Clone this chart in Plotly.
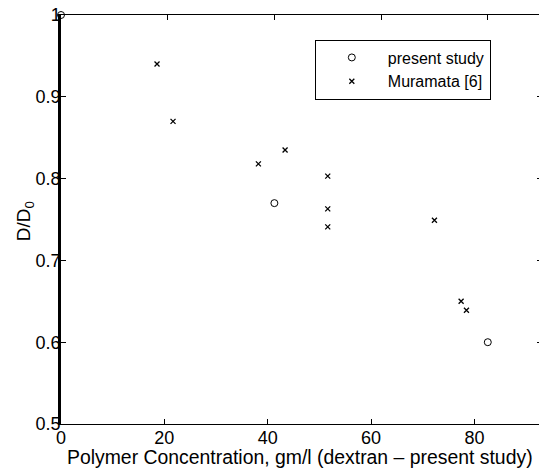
import plotly.graph_objects as go

# Data
present_x = [0, 40, 80]
present_y = [1.0, 0.77, 0.60]
mur_x = [18, 21, 37, 42, 50, 50, 50, 70, 75, 76]
mur_y = [0.940, 0.870, 0.818, 0.835, 0.803, 0.763, 0.741, 0.749, 0.650, 0.639]

x_ticks = [0, 20, 40, 60, 80]
x_top_ticks = [20, 40, 60, 80]
y_ticks = [0.5, 0.6, 0.7, 0.8, 0.9, 1.0]
y_ticklabels = ["0.5", "0.6", "0.7", "0.8", "0.9", "1"]

FONT = "Liberation Sans, Arial, Helvetica, sans-serif"

fig = go.Figure()
fig.add_trace(go.Scatter(
    x=present_x, y=present_y, mode="markers", name="present study",
    xaxis="x", yaxis="y", cliponaxis=False,
    marker=dict(symbol="circle-open", size=7, color="black", line=dict(width=1, color="black")),
))
fig.add_trace(go.Scatter(
    x=mur_x, y=mur_y, mode="markers", name="Muramata [6]",
    xaxis="x", yaxis="y", cliponaxis=False,
    marker=dict(symbol="x-thin", size=5, color="black", line=dict(width=1.3, color="black")),
))
# invisible anchor traces for the secondary (labelled bottom / right) axes
fig.add_trace(go.Scatter(x=[0], y=[0.5], mode="markers", xaxis="x2", yaxis="y",
                         marker=dict(size=1, color="rgba(0,0,0,0)"), showlegend=False,
                         hoverinfo="skip"))
fig.add_trace(go.Scatter(x=[0], y=[0.5], mode="markers", xaxis="x", yaxis="y2",
                         marker=dict(size=1, color="rgba(0,0,0,0)"), showlegend=False,
                         hoverinfo="skip"))

fig.update_layout(
    width=539, height=475,
    margin=dict(l=61, r=0, t=15, b=51),
    paper_bgcolor="white", plot_bgcolor="white",
    font=dict(family=FONT, size=18, color="black"),
    showlegend=True,
    xaxis=dict(
        range=[0, 89.6], side="top", anchor="y", tickvals=x_top_ticks,
        ticks="inside", ticklen=5, tickcolor="black", showticklabels=False,
        showline=True, linecolor="black", linewidth=1,
        showgrid=False, zeroline=False,
    ),
    xaxis2=dict(
        range=[0, 92.5], overlaying="x", side="bottom", anchor="y", tickvals=x_ticks,
        ticks="inside", ticklen=5, tickcolor="black",
        showline=True, linecolor="black", linewidth=1,
        showgrid=False, zeroline=False, tickfont=dict(size=18), ticklabelstandoff=-3,
        ticklabeloverflow="allow",
    ),
    yaxis=dict(
        range=[0.5, 1.0], tickvals=y_ticks, ticktext=y_ticklabels, ticks="inside",
        ticklen=5, tickcolor="black", showline=True, linecolor="black", linewidth=2.5,
        mirror=False, showgrid=False, zeroline=False, tickfont=dict(size=18),
        ticklabelstandoff=-6, ticklabeloverflow="allow",
    ),
    yaxis2=dict(
        range=[0.5, 1.0], overlaying="y", side="right", anchor="x", tickvals=y_ticks,
        ticks="inside", ticklen=2, tickcolor="black", showticklabels=False,
        showline=False, showgrid=False, zeroline=False,
    ),
    legend=dict(
        x=0.531, y=0.94, xanchor="left", yanchor="top",
        bordercolor="black", borderwidth=1, bgcolor="white",
        font=dict(family=FONT, size=16, color="black"),
        itemwidth=62, tracegroupgap=0, entrywidth=132,
    ),
    annotations=[
        dict(text="Polymer Concentration, gm/l (dextran \u2013 present study)",
             xref="paper", yref="paper", x=0.5, y=-0.0807, xanchor="center", yanchor="middle",
             showarrow=False, font=dict(family=FONT, size=19.4, color="black")),
        dict(text="D/D<sub>0</sub>", xref="paper", yref="paper", x=-0.0753, y=0.496,
             xanchor="center", yanchor="middle", textangle=-90, showarrow=False,
             font=dict(family=FONT, size=19, color="black")),
    ],
)

fig.write_html("out.html", config={"displayModeBar": False},
               post_script="document.body.style.margin='0';")
